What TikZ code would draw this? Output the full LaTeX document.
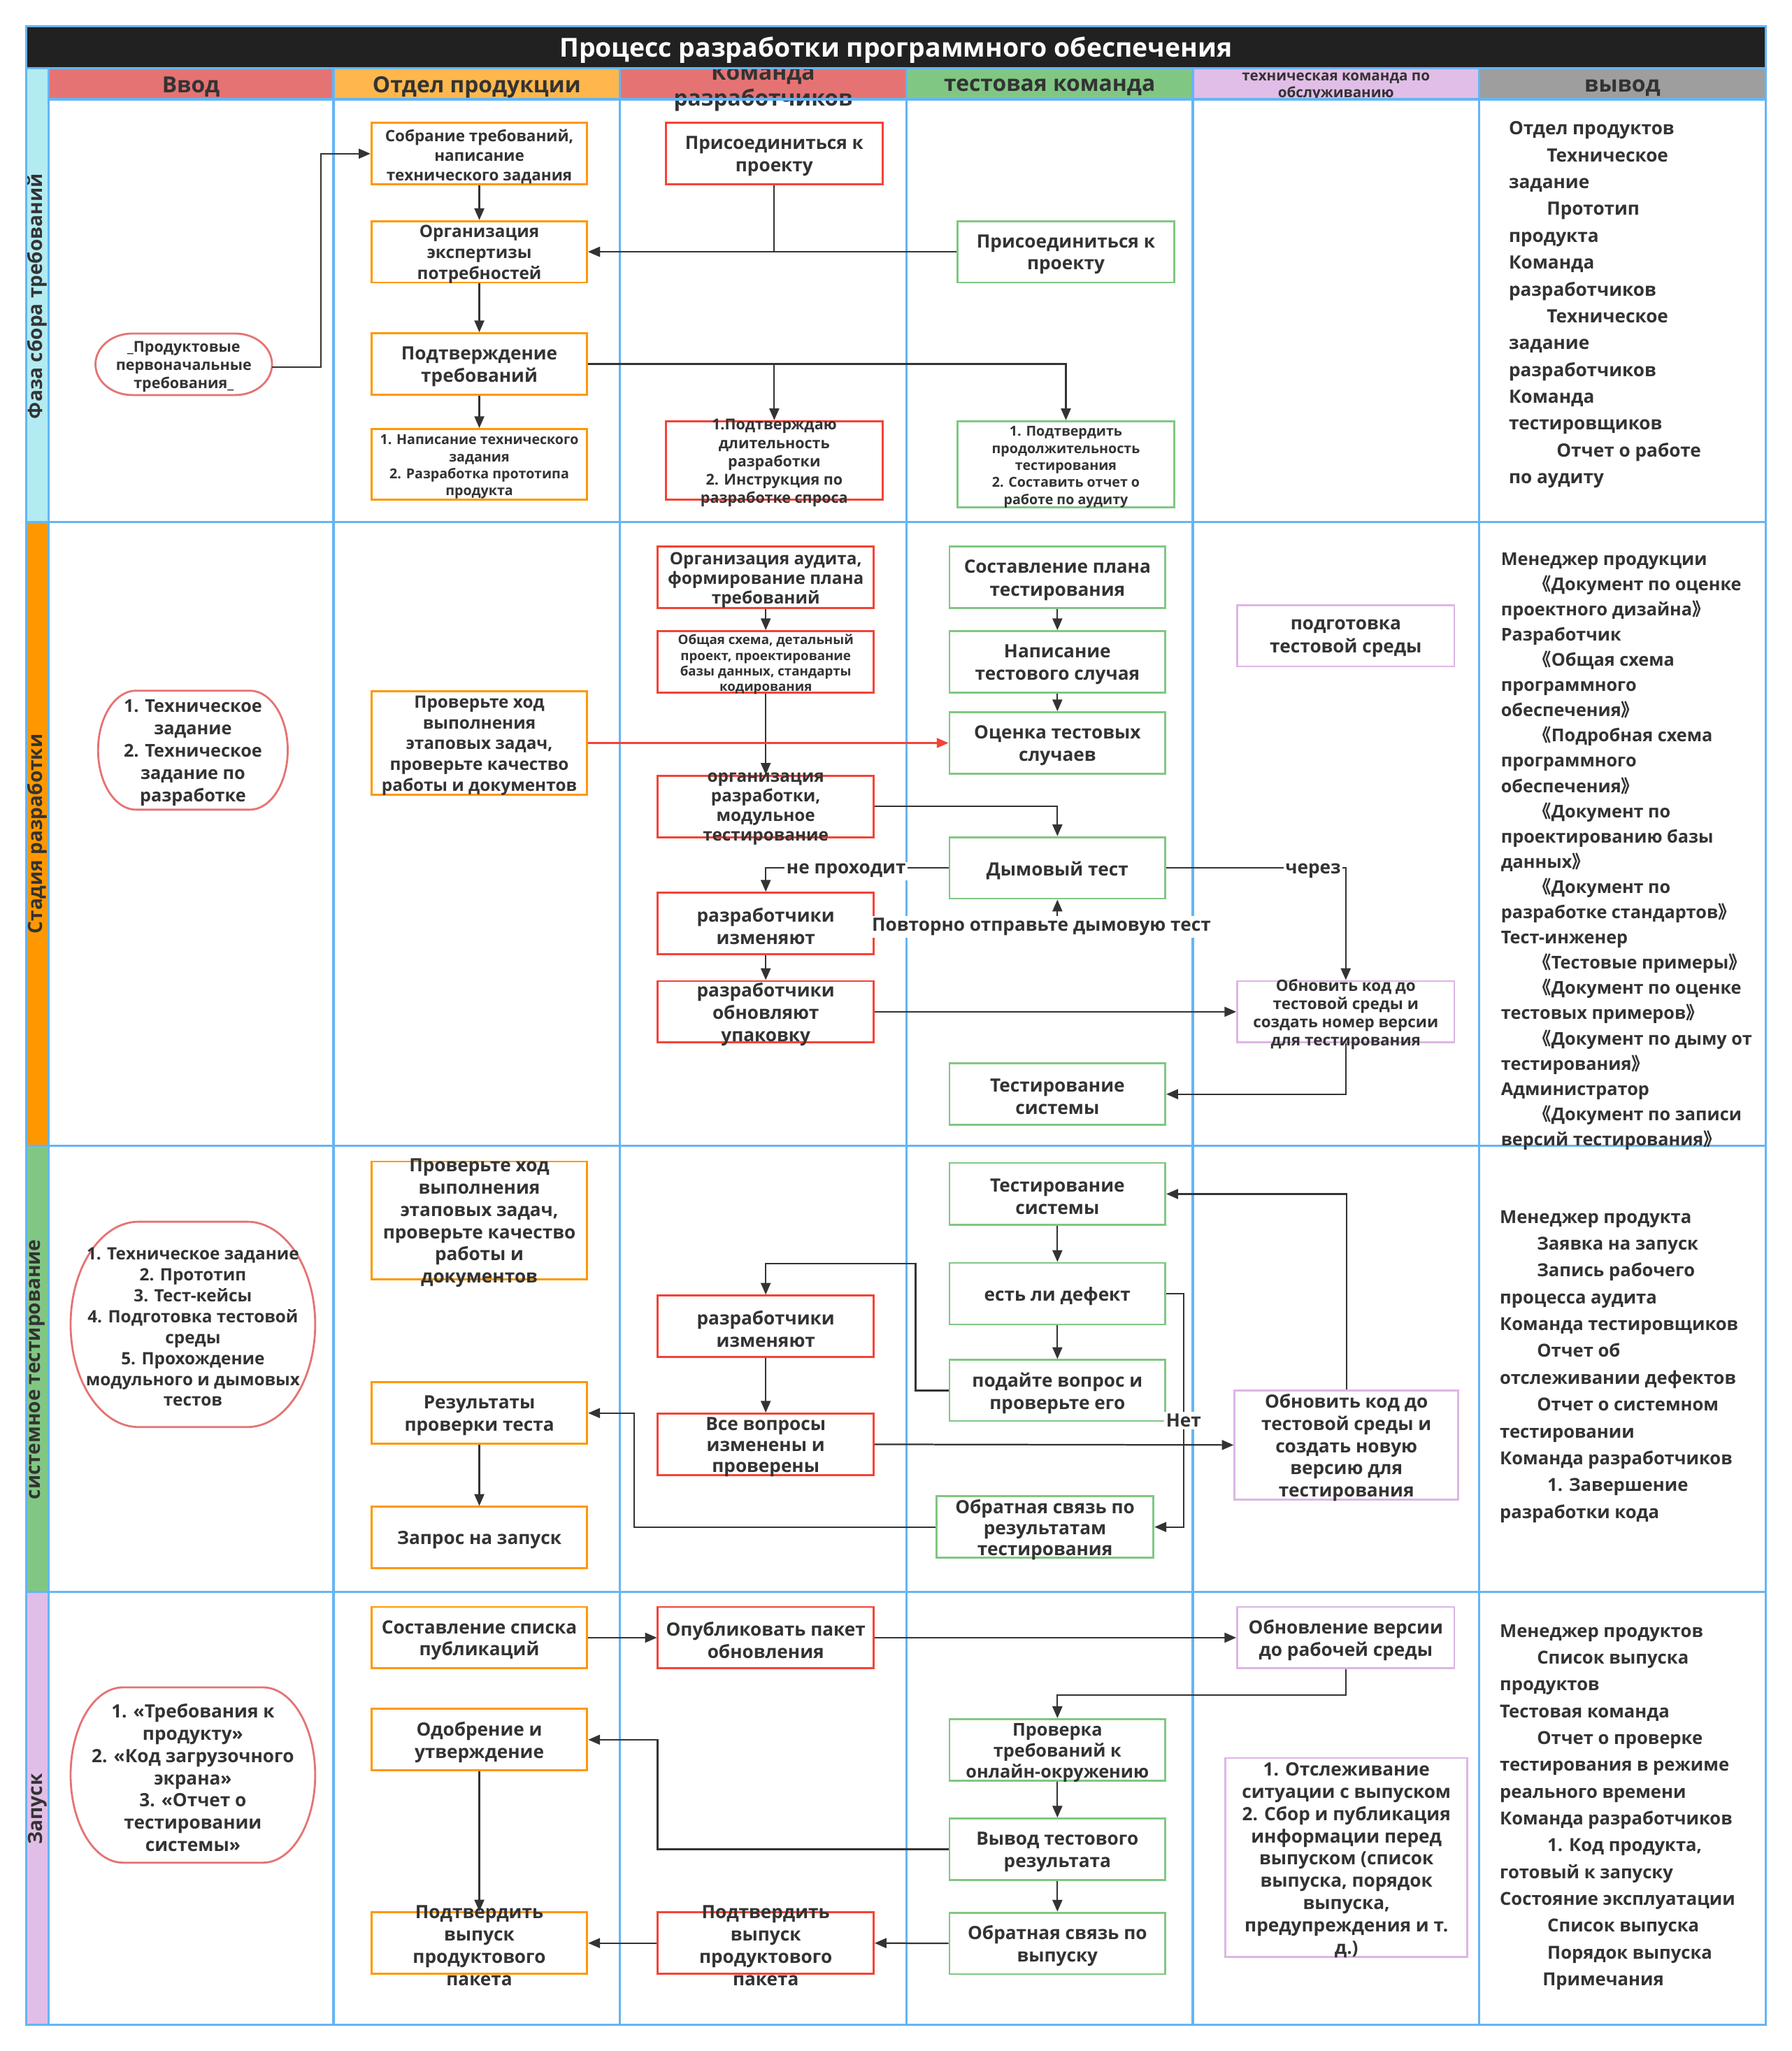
\documentclass[tikz,border=0pt]{standalone}
\usepackage{fontspec}
\setmainfont{Open Sans}
\newfontfamily\cjk{Noto Sans CJK SC}
\usetikzlibrary{arrows.meta,calc}
\definecolor{gridblue}{HTML}{64B5F6}
\definecolor{titleblack}{HTML}{212121}
\definecolor{hdrred}{HTML}{E57373}
\definecolor{hdrorange}{HTML}{FFB74D}
\definecolor{hdrgreen}{HTML}{81C784}
\definecolor{hdrpurple}{HTML}{E1BEE7}
\definecolor{hdrgray}{HTML}{9E9E9E}
\definecolor{stripcyan}{HTML}{B2EBF2}
\definecolor{striporange}{HTML}{FF9800}
\definecolor{boxorange}{HTML}{FF9800}
\definecolor{boxred}{HTML}{F44336}
\definecolor{boxgreen}{HTML}{81C784}
\definecolor{boxpurple}{HTML}{DDB6E5}
\definecolor{stadred}{HTML}{E57373}
\definecolor{txtgray}{HTML}{333333}
\definecolor{linegray}{HTML}{333333}
\newcommand\fs[2]{\fontsize{#1pt}{#2pt}\selectfont}
\newcommand\obr{{\cjk 《}}
\newcommand\cbr{{\cjk 》}}
\newcommand\bx[8]{%
  \node[#2, minimum width=#5pt, minimum height=#6pt] (#1) at (#3,#4) {};
  \node[txt, font=\bfseries\fs#7] (#1t) at (#1.center) {#8};}
\newcommand\stad[6]{%
  \draw[stadium] ({#1+#5},#2) -- ({#3-#5},#2)
   .. controls ({#3-0.4477*#5},#2) and (#3,{#2+0.4477*#6}) .. (#3,{#2+#6})
   -- (#3,{#4-#6})
   .. controls (#3,{#4-0.4477*#6}) and ({#3-0.4477*#5},#4) .. ({#3-#5},#4)
   -- ({#1+#5},#4)
   .. controls ({#1+0.4477*#5},#4) and (#1,{#4-0.4477*#6}) .. (#1,{#4-#6})
   -- (#1,{#2+#6})
   .. controls (#1,{#2+0.4477*#6}) and ({#1+0.4477*#5},#2) .. ({#1+#5},#2) -- cycle;}
\tikzset{
  gridline/.style={draw=gridblue, line width=1.8pt},
  boxbase/.style={draw, line width=1.5pt, fill=white, inner sep=0pt},
  obox/.style={boxbase, draw=boxorange},
  rbox/.style={boxbase, draw=boxred},
  gbox/.style={boxbase, draw=boxgreen},
  pbox/.style={boxbase, draw=boxpurple},
  stadium/.style={draw=stadred, line width=1.5pt, fill=white},
  txt/.style={text=txtgray, align=center, inner sep=0pt, yshift=-2pt},
  hdr/.style={text=txtgray, align=center, inner sep=0pt, yshift=-2pt, font=\bfseries\fs{17}{20}},
  strip/.style={text=txtgray, inner sep=0pt, rotate=90, font=\bfseries\fs{15}{18}},
  arr/.style={draw=linegray, line width=1.2pt, -{Triangle[length=9pt,width=7.5pt]}},
  redarr/.style={draw=boxred, line width=1.2pt, -{Triangle[length=9pt,width=7.5pt]}},
  lbl/.style={fill=white, text=txtgray, inner sep=1.5pt, yshift=-2pt, font=\bfseries\fs{14}{17}},
  outtxt/.style={text=txtgray, align=left, inner sep=0pt, anchor=north west}
}
\begin{document}
\begin{tikzpicture}[x=1pt,y=-1pt]
\useasboundingbox (0,0) rectangle (1370,1568);
\fill[white] (0,0) rectangle (1370,1568);
% header fills
\fill[hdrred] (37,52) rectangle (255,76);
\fill[hdrorange] (255,52) rectangle (474,76);
\fill[hdrred] (474,52) rectangle (693,76);
\fill[hdrgreen] (693,52) rectangle (912,76);
\fill[hdrpurple] (912,52) rectangle (1131,76);
\fill[hdrgray] (1131,52) rectangle (1350,76);
% strips
\fill[stripcyan] (20,52) rectangle (37,399);
\fill[striporange] (20,399) rectangle (37,876);
\fill[hdrgreen] (20,876) rectangle (37,1217);
\fill[hdrpurple] (20,1217) rectangle (37,1548);
% header texts
\node[hdr] (h1) at (146,64.5) {Ввод};
\node[hdr] (h2) at (364.5,64.5) {Отдел продукции};
\node[hdr] (h3) at (583.5,65) {Команда\\разработчиков};
\node[hdr] (h4) at (802.5,64.5) {тестовая команда};
\node[hdr, font=\bfseries\fs{11}{13}] (h5) at (1021.5,64.5) {техническая команда по\\обслуживанию};
\node[hdr] (h6) at (1240.5,65.5) {вывод};
\node[strip] (s1) at (28.5,226.5) {Фаза сбора требований};
\node[strip] (s2) at (28.5,637.5) {Стадия разработки};
\node[strip] (s3) at (28.5,1047) {системное тестирование};
\node[strip] (s4) at (28.5,1383) {Запуск};
% title
\fill[titleblack] (20,20) rectangle (1350,52);
\node[text=white, inner sep=0pt, yshift=-1.5pt, font=\bfseries\fs{20}{24}] (t0) at (685,37) {Процесс разработки программного обеспечения};
% grid
\draw[gridline] (20,20) rectangle (1350,1548);
\draw[gridline] (20,52) -- (1350,52);
\draw[gridline] (37,76) -- (1350,76);
\foreach \yy in {399,876,1217} \draw[gridline] (20,\yy) -- (1350,\yy);
\foreach \xx in {37,255,474,693,912,1131} \draw[gridline] (\xx,52) -- (\xx,1548);

% ---------- row 1 ----------
\stad{73}{255}{208}{302}{28}{23.5}
\node[txt, font=\bfseries\fs{11.5}{14}, minimum width=135pt, minimum height=47pt] (a1) at (140.5,278.5) {\_Продуктовые\\первоначальные\\требования\_};
\bx{b1}{obox}{366.5}{117.5}{165}{47}{{12}{15}}{Собрание требований,\\написание\\технического задания}
\bx{b2}{obox}{366.5}{192.5}{165}{47}{{13}{16}}{Организация\\экспертизы\\потребностей}
\bx{b3}{obox}{366.5}{278.3}{165}{47}{{14}{17}}{Подтверждение\\требований}
\bx{b4}{obox}{366.5}{355}{165}{54}{{10.5}{13}}{1. Написание технического\\задания\\2. Разработка прототипа\\продукта}
\bx{c1}{rbox}{592}{117.5}{166}{47}{{14}{17}}{Присоединиться к\\проекту}
\bx{c2}{rbox}{592}{352}{166}{60}{{11.5}{14}}{1.Подтверждаю\\длительность\\разработки\\2. Инструкция по\\разработке спроса}
\bx{d1}{gbox}{815}{192.5}{166}{47}{{14}{17}}{Присоединиться к\\проекту}
\bx{d2}{gbox}{815}{355}{166}{66}{{10.5}{13}}{1. Подтвердить\\продолжительность\\тестирования\\2. Составить отчет о\\работе по аудиту}

\draw[arr] (a1.east) -- ++(37,0) |- (b1.west);
\draw[arr] (b1.south) -- (b2.north);
\draw[arr] (c1.south) |- (b2.east);
\draw[arr] (d1.west) -- (b2.east);
\draw[arr] (b2.south) -- (b3.north);
\draw[arr] (b3.east) -| (d2.north);
\draw[arr] (b3.east -| c2.north) -- (c2.north);
\draw[arr] (b3.south) -- (b4.north);

% ---------- row 2 ----------
\stad{75}{528}{220}{619}{29}{45.5}
\node[txt, font=\bfseries\fs{13.5}{17}, minimum width=145pt, minimum height=91pt] (a2) at (147.5,573.5) {1. Техническое\\задание\\2. Техническое\\задание по\\разработке};
\bx{b5}{obox}{366.5}{568}{165}{79}{{13}{16}}{Проверьте ход\\выполнения\\этаповых задач,\\проверьте качество\\работы и документов}
\bx{c3}{rbox}{585.5}{441.5}{165}{47}{{13}{15}}{Организация аудита,\\формирование плана\\требований}
\bx{c4}{rbox}{585.5}{506}{165}{47}{{10}{12}}{Общая схема, детальный\\проект, проектирование\\базы данных, стандарты\\кодирования}
\bx{c5}{rbox}{585.5}{616.5}{165}{47}{{13}{15}}{организация\\разработки,\\модульное\\тестирование}
\bx{c6}{rbox}{585.5}{706}{165}{47}{{14}{17}}{разработчики\\изменяют}
\bx{c7}{rbox}{585.5}{773.5}{165}{47}{{14}{17}}{разработчики\\обновляют\\упаковку}
\bx{d3}{gbox}{808.5}{441.5}{165}{47}{{14}{17.5}}{Составление плана\\тестирования}
\bx{d4}{gbox}{808.5}{506}{165}{47}{{14}{17.5}}{Написание\\тестового случая}
\bx{d5}{gbox}{808.5}{568}{165}{47}{{14}{17.5}}{Оценка тестовых\\случаев}
\bx{d6}{gbox}{808.5}{663.5}{165}{47}{{14}{17}}{Дымовый тест}
\bx{d7}{gbox}{808.5}{836.5}{165}{47}{{14}{17}}{Тестирование\\системы}
\bx{e1}{pbox}{1029}{486}{166}{47}{{14}{17.5}}{подготовка\\тестовой среды}
\bx{e2}{pbox}{1029}{773.5}{166}{47}{{12}{14}}{Обновить код до\\тестовой среды и\\создать номер версии\\для тестирования}

\draw[arr] (c3.south) -- (c4.north);
\draw[arr] (c4.south) -- (c5.north);
\draw[redarr] (b5.east) -- (d5.west);
\draw[arr] (d3.south) -- (d4.north);
\draw[arr] (d4.south) -- (d5.north);
\draw[arr] (c5.east) -| (d6.north);
\draw[arr] (d6.west) -| (c6.north);
\draw[arr] (c6.east) -| (d6.south);
\draw[arr] (c6.south) -- (c7.north);
\draw[arr] (d6.east) -| (e2.north);
\draw[arr] (c7.east) -- (e2.west);
\draw[arr] (e2.south) |- (d7.east);
\node[lbl] (l1) at (647,664) {не проходит};
\node[lbl] (l2) at (796.3,706.5) {Повторно отправьте дымовую тест};
\node[lbl] (l3) at (1004,664) {через};

% ---------- row 3 ----------
\stad{54}{934}{241}{1091}{52}{78.5}
\node[txt, font=\bfseries\fs{13}{16}, minimum width=187pt, minimum height=157pt] (a3) at (147.5,1012.5) {1. Техническое задание\\2. Прототип\\3. Тест-кейсы\\4. Подготовка тестовой\\среды\\5. Прохождение\\модульного и дымовых\\тестов};
\bx{b6}{obox}{366.5}{933}{165}{90}{{14}{17}}{Проверьте ход\\выполнения\\этаповых задач,\\проверьте качество\\работы и\\документов}
\bx{b7}{obox}{366.5}{1080.3}{165}{47}{{14}{17}}{Результаты\\проверки теста}
\bx{b8}{obox}{366.5}{1175.5}{165}{47}{{14}{17}}{Запрос на запуск}
\bx{c8}{rbox}{585.5}{1014}{165}{47}{{14}{17}}{разработчики\\изменяют}
\bx{c9}{rbox}{585.5}{1104.2}{165}{47}{{14}{16}}{Все вопросы\\изменены и\\проверены}
\bx{d8}{gbox}{808.5}{912.8}{165}{47.5}{{14}{17}}{Тестирование\\системы}
\bx{d9}{gbox}{808.5}{989}{165}{47}{{14}{17}}{есть ли дефект}
\bx{d10}{gbox}{808.5}{1063}{165}{46.6}{{14}{17}}{подайте вопрос и\\проверьте его}
\bx{d11}{gbox}{799}{1167.4}{166}{47}{{14}{16}}{Обратная связь по\\результатам\\тестирования}
\bx{e3}{pbox}{1029.5}{1104.7}{171}{83.4}{{14}{17}}{Обновить код до\\тестовой среды и\\создать новую\\версию для\\тестирования}

\draw[arr] (d8.south) -- (d9.north);
\draw[arr] (d9.south) -- (d10.north);
\draw[arr] (d10.west) -| (700,966) -| (c8.north);
\draw[arr] (c8.south) -- (c9.north);
\draw[arr] (c9.east) -- (e3.west);
\draw[arr] (d9.east) -| (905,1100) |- (d11.east);
\draw[arr] (d11.west) -| ([xshift=35pt]b7.east) -- (b7.east);
\draw[arr] (e3.north) |- (d8.east);
\draw[arr] (b7.south) -- (b8.north);
\node[lbl] (l4) at (905,1084) {Нет};

% ---------- row 4 ----------
\stad{54}{1290}{241}{1424}{40}{67}
\node[txt, font=\bfseries\fs{14}{17}, minimum width=187pt, minimum height=134pt] (a4) at (147.5,1357) {1. «Требования к\\продукту»\\2. «Код загрузочного\\экрана»\\3. «Отчет о\\тестировании\\системы»};
\bx{b9}{obox}{366.5}{1252}{165}{47}{{14}{17}}{Составление списка\\публикаций}
\bx{b10}{obox}{366.5}{1330}{165}{47}{{14}{17}}{Одобрение и\\утверждение}
\bx{b11}{obox}{366.5}{1485.5}{165}{47}{{14}{17}}{Подтвердить\\выпуск\\продуктового\\пакета}
\bx{c10}{rbox}{585.5}{1252}{165}{47}{{14}{17}}{Опубликовать пакет\\обновления}
\bx{c11}{rbox}{585.5}{1485.5}{165}{47}{{14}{17}}{Подтвердить\\выпуск\\продуктового\\пакета}
\bx{d12}{gbox}{808.5}{1337.8}{165}{47}{{13.5}{16}}{Проверка\\требований к\\онлайн-окружению}
\bx{d13}{gbox}{808.5}{1413.8}{165}{47}{{14}{17}}{Вывод тестового\\результата}
\bx{d14}{gbox}{808.5}{1485.7}{165}{47}{{14}{17}}{Обратная связь по\\выпуску}
\bx{e4}{pbox}{1029}{1252}{166}{47}{{14}{17}}{Обновление версии\\до рабочей среды}
\bx{e5}{pbox}{1029.5}{1420}{185}{152}{{14}{17}}{1. Отслеживание\\ситуации с выпуском\\2. Сбор и публикация\\информации перед\\выпуском (список\\выпуска, порядок\\выпуска,\\предупреждения и т.\\д.)}

\draw[arr] (b9.east) -- (c10.west);
\draw[arr] (c10.east) -- (e4.west);
\draw[arr] (e4.south) -- ++(0,19.5) -| (d12.north);
\draw[arr] (d12.south) -- (d13.north);
\draw[arr] (d13.south) -- (d14.north);
\draw[arr] (d13.west) -| ([xshift=53pt]b10.east) -- (b10.east);
\draw[arr] (b10.south) -- (b11.north);
\draw[arr] (d14.west) -- (c11.east);
\draw[arr] (c11.west) -- (b11.east);

% ---------- output column ----------
\node[outtxt, font=\bfseries\fs{14}{20.5}] (f1) at (1153.5,88.6) {\strut Отдел продуктов\\
\hspace*{29pt}Техническое\\
задание\\
\hspace*{29pt}Прототип\\
продукта\\
Команда\\
разработчиков\\
\hspace*{29pt}Техническое\\
задание\\
разработчиков\\
Команда\\
тестировщиков\\
\hspace*{36.5pt}Отчет о работе\\
по аудиту};
\node[outtxt, font=\bfseries\fs{13.5}{19.3}] (f2) at (1147.5,418.3) {\strut Менеджер продукции\\
\hspace*{25pt}\obr Документ по оценке\\
проектного дизайна\cbr\\
Разработчик\\
\hspace*{25pt}\obr Общая схема\\
программного\\
обеспечения\cbr\\
\hspace*{25pt}\obr Подробная схема\\
программного\\
обеспечения\cbr\\
\hspace*{25pt}\obr Документ по\\
проектированию базы\\
данных\cbr\\
\hspace*{25pt}\obr Документ по\\
разработке стандартов\cbr\\
Тест-инженер\\
\hspace*{25pt}\obr Тестовые примеры\cbr\\
\hspace*{25pt}\obr Документ по оценке\\
тестовых примеров\cbr\\
\hspace*{25pt}\obr Документ по дыму от\\
тестирования\cbr\\
Администратор\\
\hspace*{25pt}\obr Документ по записи\\
версий тестирования\cbr};
\node[outtxt, font=\bfseries\fs{13.7}{20.5}] (f3) at (1146.6,920.6) {\strut Менеджер продукта\\
\hspace*{28.4pt}Заявка на запуск\\
\hspace*{28.4pt}Запись рабочего\\
процесса аудита\\
Команда тестировщиков\\
\hspace*{28.4pt}Отчет об\\
отслеживании дефектов\\
\hspace*{28.4pt}Отчет о системном\\
тестировании\\
Команда разработчиков\\
\hspace*{36.4pt}1. Завершение\\
разработки кода};
\node[outtxt, font=\bfseries\fs{13.7}{20.5}] (f4) at (1146.6,1237) {\strut Менеджер продуктов\\
\hspace*{28.4pt}Список выпуска\\
продуктов\\
Тестовая команда\\
\hspace*{28.4pt}Отчет о проверке\\
тестирования в режиме\\
реального времени\\
Команда разработчиков\\
\hspace*{36.4pt}1. Код продукта,\\
готовый к запуску\\
Состояние эксплуатации\\
\hspace*{36.4pt}Список выпуска\\
\hspace*{36.4pt}Порядок выпуска\\
\hspace*{32.7pt}Примечания};
\end{tikzpicture}
\end{document}
